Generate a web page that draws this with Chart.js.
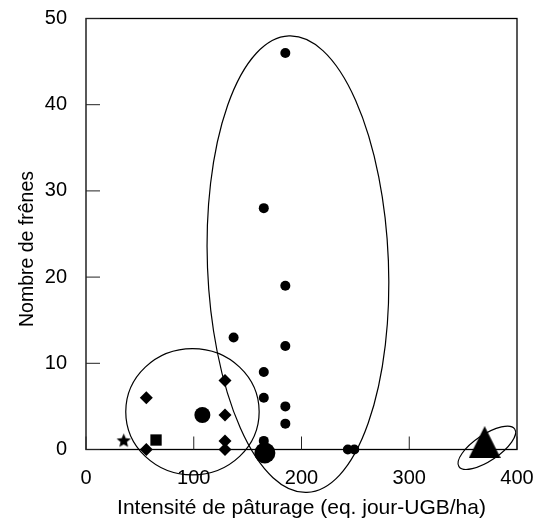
<!DOCTYPE html>
<html lang="fr">
<head>
<meta charset="UTF-8">
<title>Nombre de frênes et intensité de pâturage</title>
<script src="https://cdn.jsdelivr.net/npm/chart.js"></script>
<style>
    body { margin: 0; background: #fff; }
    .wrap { width: 533px; height: 526px; }
</style>
</head>
<body>
<div class="wrap"><canvas id="chart"></canvas></div>
<script>
// x = intensité de pâturage, y = nombre de frênes
const circleX = [185, 165, 185, 185, 137, 165, 165, 185, 185, 165, 243, 249];
const circleY = [46, 28, 19, 12, 13, 9, 6, 5, 3, 1, 0, 0];
const diamondX = [56, 56, 129, 129, 129, 129];
const diamondY = [6, 0, 8, 4, 1, 0];
const mediumX = [108];
const mediumY = [4];
const bigX = [166];
const bigY = [-0.4];
const squareX = [65];
const squareY = [1.1];
const starX = [35];
const starY = [1];
const triangleX = [370];
const triangleY = [0.85];

const xTicks = [0, 100, 200, 300, 400];
const yTicks = [0, 10, 20, 30, 40, 50];

// groups circled on the figure (centre and half-axes in axis units, rotation in degrees)
const groups = [
    { cx: 98.8, cy: 4.38, rx: 61.9, ry: 7.33, rot: 0 },
    { cx: 196.7, cy: 21.5, rx: 84, ry: 26.5, rot: -2.25 },
    { cx: 372, cy: 0.2, rx: 31.2, ry: 1.5, rot: -34 }
];

const FONT = "'Liberation Sans', Arial, sans-serif";
Chart.defaults.font.family = FONT;
Chart.defaults.color = '#000';

function pts(xs, ys) {
    return xs.map((x, i) => ({ x: x, y: ys[i] }));
}

function starImage(r) {
    const c = document.createElement('canvas');
    c.width = c.height = Math.ceil(r * 2) + 2;
    const g = c.getContext('2d');
    const m = c.width / 2;
    g.beginPath();
    for (let i = 0; i < 10; i++) {
        const rr = i % 2 ? r * 0.45 : r;
        const a = -Math.PI / 2 + i * Math.PI / 5;
        g.lineTo(m + rr * Math.cos(a), m + rr * Math.sin(a));
    }
    g.closePath();
    g.fill();
    return c;
}

function triangleImage(s) {
    const c = document.createElement('canvas');
    c.width = c.height = s;
    const g = c.getContext('2d');
    g.beginPath();
    g.moveTo(s / 2, 0);
    g.lineTo(s, s);
    g.lineTo(0, s);
    g.closePath();
    g.fill();
    return c;
}

function ds(data, style, radius) {
    return {
        data: data,
        pointStyle: style,
        pointRadius: radius,
        pointBackgroundColor: '#000',
        pointBorderColor: '#000',
        pointBorderWidth: 0,
        clip: false
    };
}

const decor = {
    id: 'decor',
    afterDatasetsDraw(chart) {
        const { ctx, chartArea: a, scales: { x, y } } = chart;
        const kx = x.getPixelForValue(1) - x.getPixelForValue(0);
        const ky = y.getPixelForValue(0) - y.getPixelForValue(1);
        ctx.save();

        ctx.strokeStyle = '#000';
        ctx.lineWidth = 1.2;
        groups.forEach(g => {
            ctx.beginPath();
            ctx.ellipse(x.getPixelForValue(g.cx), y.getPixelForValue(g.cy),
                g.rx * kx, g.ry * ky, g.rot * Math.PI / 180, 0, Math.PI * 2);
            ctx.stroke();
        });

        // frame
        ctx.lineWidth = 1.3;
        ctx.strokeRect(a.left, a.top, a.right - a.left, a.bottom - a.top);

        // inner tick marks
        ctx.lineWidth = 1;
        ctx.strokeStyle = '#222';
        ctx.beginPath();
        x.ticks.forEach(t => {
            const px = x.getPixelForValue(t.value);
            ctx.moveTo(px, a.bottom);
            ctx.lineTo(px, a.bottom - 13);
        });
        y.ticks.forEach(t => {
            const py = y.getPixelForValue(t.value);
            ctx.moveTo(a.left, py);
            ctx.lineTo(a.left + 14, py);
        });
        ctx.stroke();

        // y title
        ctx.fillStyle = '#000';
        ctx.font = '19.5px ' + FONT;
        ctx.textAlign = 'center';
        ctx.textBaseline = 'alphabetic';
        ctx.translate(33, 249);
        ctx.rotate(-Math.PI / 2);
        ctx.fillText('Nombre de frênes', 0, 0);
        ctx.restore();
    }
};

new Chart(document.getElementById('chart'), {
    type: 'scatter',
    data: {
        datasets: [
            ds(pts(circleX, circleY), 'circle', 5),
            ds(pts(mediumX, mediumY), 'circle', 8),
            ds(pts(bigX, bigY), 'circle', 10.5),
            ds(pts(diamondX, diamondY), 'rectRot', 6.5),
            ds(pts(squareX, squareY), 'rect', 8),
            ds(pts(starX, starY), starImage(7.5), 8),
            ds(pts(triangleX, triangleY), triangleImage(32), 16)
        ]
    },
    options: {
        responsive: true,
        maintainAspectRatio: false,
        animation: false,
        events: [],
        layout: { padding: { top: 18.5, right: 14, left: 0, bottom: 0 } },
        plugins: {
            legend: { display: false },
            tooltip: { enabled: false }
        },
        scales: {
            x: {
                type: 'linear',
                min: 0,
                max: 400,
                afterBuildTicks: s => { s.ticks = xTicks.map(v => ({ value: v })); },
                afterFit: s => { s.height = 76.5; s.paddingLeft = 0; s.paddingRight = 0; },
                grid: { display: false },
                border: { display: false },
                ticks: { font: { size: 20 }, padding: 9, maxRotation: 0, autoSkip: false },
                title: {
                    display: true,
                    text: 'Intensité de pâturage (eq. jour-UGB/ha)',
                    font: { size: 21 },
                    padding: { top: 0, bottom: 5 }
                }
            },
            y: {
                type: 'linear',
                min: 0,
                max: 50,
                afterBuildTicks: s => { s.ticks = yTicks.map(v => ({ value: v })); },
                afterFit: s => { s.width = 86; s.paddingTop = 0; s.paddingBottom = 0; },
                grid: { display: false },
                border: { display: false },
                ticks: { font: { size: 20 }, padding: 11, autoSkip: false }
            }
        }
    },
    plugins: [decor]
});
</script>
</body>
</html>
